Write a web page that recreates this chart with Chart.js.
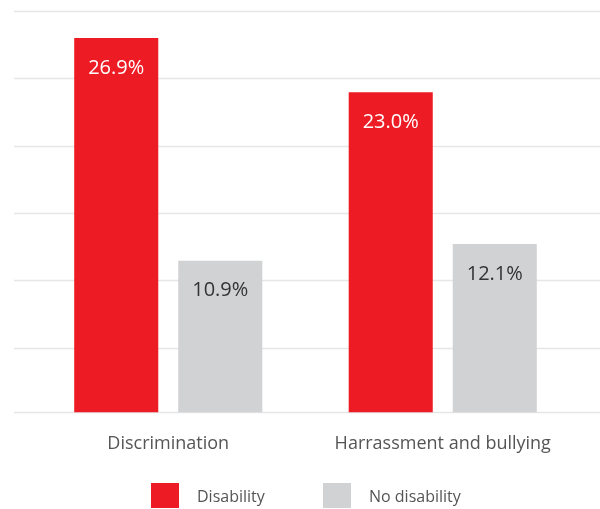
<!DOCTYPE html>
<html>
<head>
<meta charset="utf-8">
<script src="https://cdn.jsdelivr.net/npm/chart.js@4"></script>
<style>
  html, body { margin: 0; padding: 0; background: #fff; }
  #wrap { position: relative; width: 600px; height: 509px; overflow: hidden; }
  #box { position: absolute; left: 0; top: 0; width: 600px; height: 490px; }
  #legend { position: absolute; left: 0; top: 483px; width: 600px; height: 26px; }
  .item { position: absolute; top: 0; height: 25px; font-family: "Open Sans", sans-serif; font-size: 16px; color: #555; }
  .item span.sw { position: absolute; left: 0; top: 0; width: 28px; height: 25px; }
  .item span.tx { position: absolute; left: 46px; top: 2px; white-space: nowrap; }
</style>
</head>
<body>
<div id="wrap">
  <div id="box"><canvas id="barChart"></canvas></div>
  <div id="legend"></div>
</div>
<script>
//データ
let categories = ['Discrimination', 'Harrassment and bullying'];
let seriesNames = ['Disability', 'No disability'];
let disability = [26.9, 23.0];
let noDisability = [10.9, 12.1];

//目盛り（上から均等に引く）
let yMax = 28.84;
let yStep = 4.84;

let red = '#ED1C24';
let grey = '#D1D2D4';

//横線を左右いっぱいに引く
let gridPlugin = {
  id: 'fullGrid',
  beforeDatasetsDraw(chart) {
    let ctx = chart.ctx;
    let y = chart.scales.y;
    ctx.save();
    ctx.strokeStyle = '#e6e6e6';
    ctx.lineWidth = 1.5;
    let values = [0];
    for (let v = yMax; v > 0.01; v -= yStep) values.push(v);
    values.forEach(function (v) {
      let py = Math.round(y.getPixelForValue(v)) + 0.5;
      ctx.beginPath();
      ctx.moveTo(14, py);
      ctx.lineTo(600, py);
      ctx.stroke();
    });
    ctx.restore();
  }
};

//棒の中の数値
let valuePlugin = {
  id: 'valueLabels',
  afterDatasetsDraw(chart) {
    let ctx = chart.ctx;
    ctx.save();
    ctx.font = '20px "Open Sans", sans-serif';
    ctx.textAlign = 'center';
    ctx.textBaseline = 'middle';
    chart.data.datasets.forEach(function (ds, i) {
      let meta = chart.getDatasetMeta(i);
      ctx.fillStyle = ds.labelColor;
      meta.data.forEach(function (bar, j) {
        ctx.fillText(ds.data[j].toFixed(1) + '%', bar.x, bar.y + 30);
      });
    });
    ctx.restore();
  }
};

let barCtx = document.getElementById('barChart');
let barChart = new Chart(barCtx, {
  type: 'bar',
  data: {
    labels: categories,
    datasets: [{
      label: seriesNames[0],
      data: disability,
      backgroundColor: red,
      labelColor: '#ffffff',
    }, {
      label: seriesNames[1],
      data: noDisability,
      backgroundColor: grey,
      labelColor: '#333333',
    }],
  },
  options: {
    responsive: true,
    maintainAspectRatio: false,
    animation: false,
    categoryPercentage: 0.758,
    barPercentage: 0.808,
    layout: { padding: { left: 31, right: 20, top: 11, bottom: 14 } },
    plugins: {
      legend: { display: false },
      tooltip: { enabled: false },
    },
    scales: {
      x: {
        grid: { display: false, drawTicks: false },
        border: { display: false },
        ticks: {
          color: '#555',
          padding: 21,
          font: { family: '"Open Sans", sans-serif', size: 18 },
        },
      },
      y: {
        display: false,
        min: 0,
        max: yMax,
      },
    },
  },
  plugins: [gridPlugin, valuePlugin],
});

//凡例
let legend = document.getElementById('legend');
let legendX = [151, 323];
barChart.data.datasets.forEach(function (ds, i) {
  let item = document.createElement('div');
  item.className = 'item';
  item.style.left = legendX[i] + 'px';
  let sw = document.createElement('span');
  sw.className = 'sw';
  sw.style.background = ds.backgroundColor;
  let tx = document.createElement('span');
  tx.className = 'tx';
  tx.textContent = ds.label;
  item.appendChild(sw);
  item.appendChild(tx);
  legend.appendChild(item);
});
</script>
</body>
</html>
